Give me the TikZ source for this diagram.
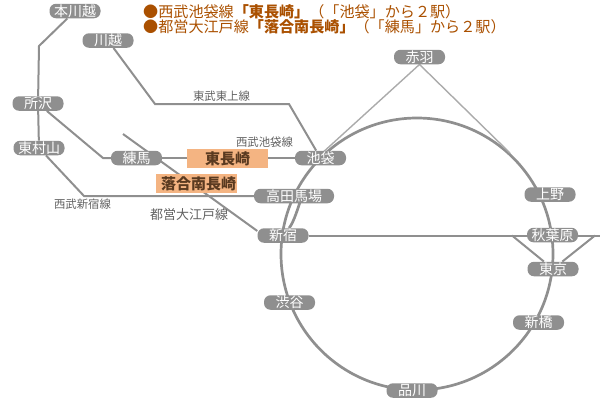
\documentclass[tikz,border=0pt]{standalone}
\usepackage{fontspec}
\usetikzlibrary{backgrounds}
\setmainfont{Noto Sans CJK JP}
\definecolor{linegray}{HTML}{8F8F8F}
\definecolor{pale}{HTML}{ABABAB}
\definecolor{headbrown}{HTML}{AA5000}
\definecolor{peach}{HTML}{F4B482}
\definecolor{peachtext}{HTML}{5A3A20}
\tikzset{
  station/.style={fill=linegray, text=white, rounded corners=6.5pt, minimum width=51pt, minimum height=14.5pt, inner sep=0pt, font=\fontsize{14}{14}\selectfont},
  newstation/.style={fill=peach, text=peachtext, minimum width=81pt, minimum height=19pt, inner sep=0pt, font=\fontsize{15}{15}\selectfont\bfseries},
  route/.style={linegray, line width=2pt},
  loopline/.style={linegray, line width=2.7pt},
  thinroute/.style={pale, line width=1.4pt},
  routename/.style={text=black!62, inner sep=0pt, font=\fontsize{11.4}{11.4}\selectfont},
  heading/.style={text=headbrown, anchor=west, inner sep=0pt, font=\fontsize{15.1}{15.1}\selectfont}
}
\begin{document}
\begin{tikzpicture}[x=1pt,y=-1pt]
\useasboundingbox (0,0) rectangle (600,400);

% heading
\node[heading] (headA) at (143,12) {●西武池袋線\textbf{「東長崎」}（「池袋」から２駅）};
\node[heading] (headB) at (143,27) {●都営大江戸線\textbf{「落合南長崎」}（「練馬」から２駅）};

% stations
\node[station] (motokawagoe) at (75,11) {本川越};
\node[station] (kawagoe) at (108,40.5) {川越};
\node[station] (tokorozawa) at (38,103.5) {所沢};
\node[station] (higashimurayama) at (39,148) {東村山};
\node[station] (nerima) at (136.5,158) {練馬};
\node[station] (ikebukuro) at (320.5,158) {池袋};
\node[station, minimum width=80pt] (takadanobaba) at (294,196) {高田馬場};
\node[station] (shinjuku) at (283,235.5) {新宿};
\node[station] (shibuya) at (289.5,302.5) {渋谷};
\node[station] (shinagawa) at (412,390.5) {品川};
\node[station] (shinbashi) at (538.5,322.5) {新橋};
\node[station] (tokyo) at (553,269) {東京};
\node[station] (akihabara) at (552.5,235) {秋葉原};
\node[station] (ueno) at (550,194.5) {上野};
\node[station] (akabane) at (419.5,57) {赤羽};

\node[newstation] (higashinagasaki) at (227.5,158.5) {東長崎};
\node[newstation] (ochiai) at (196.5,183.5) {\hspace{4pt}落合南長崎};

% line names
\node[routename] (tojoname) at (221.5,96) {東武東上線};
\node[routename] (ikebukuroname) at (264.5,142) {西武池袋線};
\node[routename] (shinjukuname) at (82.5,204) {西武新宿線};
\node[routename, font=\fontsize{13}{13}\selectfont] (oedoname) at (189,215) {都営大江戸線};

\coordinate (seibuA) at (39,46);
\coordinate (tojoA) at (155,104);
\coordinate (tojoB) at (289,104);
\coordinate (nerimaA) at (103,158);
\coordinate (shinjukuA) at (84,196);
\coordinate (oedoA) at (123,134);
\coordinate (sobuR) at (600,235.5);
\coordinate (akabaneL) at (320,155);
\coordinate (akabaneR) at (510,153);
\coordinate (forkL) at (512,235.5);
\coordinate (forkR) at (595,235.5);
\coordinate (innerA) at (304,190);

\begin{scope}[on background layer]
\draw[loopline] (417,254) circle (136);
\draw[loopline] (innerA) .. controls (298,208) and (294,222) .. (shinjuku);

\draw[route] (motokawagoe) -- (seibuA) -- (tokorozawa) -- (higashimurayama);
\draw[route] (kawagoe) -- (tojoA) -- (tojoB) -- (ikebukuro);
\draw[route] (tokorozawa) -- (nerimaA) -- (nerima);
\draw[route] (nerima) -- (ikebukuro);
\draw[route] (higashimurayama) -- (shinjukuA) -- (takadanobaba);
\draw[route] (oedoA) -- (shinjuku.170);
\draw[route] (shinjuku) -- (sobuR);
\draw[route] (forkL) -- (tokyo);
\draw[route] (forkR) -- (tokyo);
\draw[thinroute] (akabaneL) -- (akabane.south) -- (akabaneR);
\end{scope}
\end{tikzpicture}
\end{document}
